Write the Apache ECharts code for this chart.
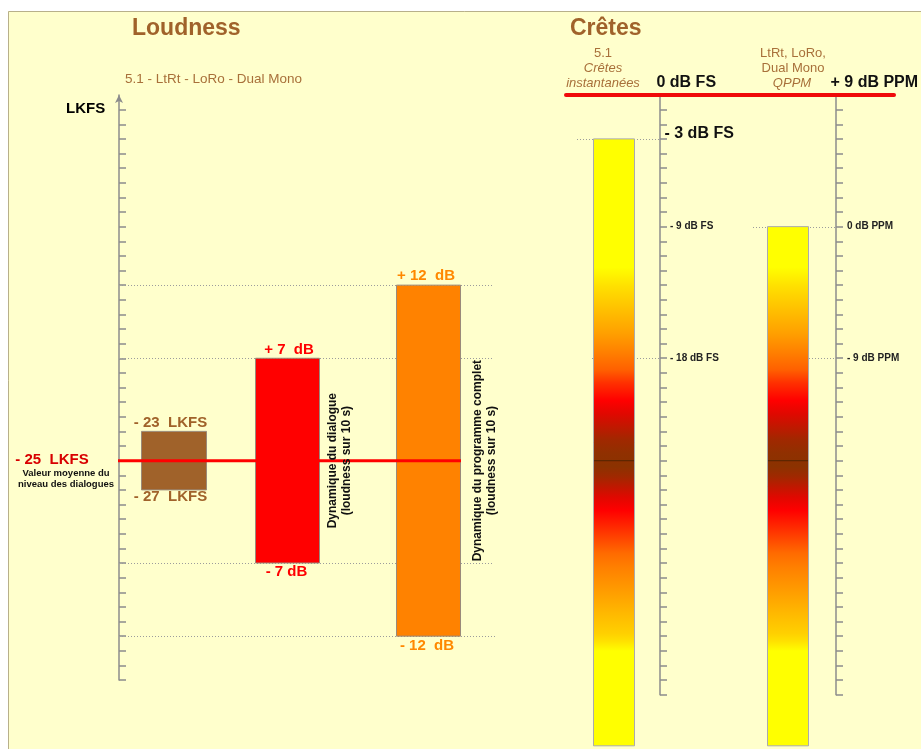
<!DOCTYPE html>
<html><head><meta charset="utf-8">
<script src="https://cdn.jsdelivr.net/npm/echarts@6/dist/echarts.min.js"></script>
<style>html,body{margin:0;padding:0;background:#fff}#c{width:921px;height:749px}</style>
</head><body><div id="c"></div>
<script>
// ---------------- data ----------------
const lkfsTicks = [-1,-2,-3,-4,-5,-6,-7,-8,-9,-10,-11,-12,-13,-14,-15,-16,-17,-18,-19,-20,
  -21,-22,-23,-24,-25,-26,-27,-28,-29,-30,-31,-32,-33,-34,-35,-36,-37,-38,-39,-40];
const lkfsRange = [-40, 0];
const dialogueLevel = -25;                 // LKFS
const dialogueLevelLabel = '- 25  LKFS';
const dialogueLevelNote = ['Valeur moyenne du', 'niveau des dialogues'];
const dialogueTolerance = [-23, -27];      // LKFS
const toleranceLabels = ['- 23  LKFS', '- 27  LKFS'];
const dialogueDynamics = [-18, -32];       // LKFS (+7 / -7 dB)
const dialogueDynLabels = ['+ 7  dB', '- 7 dB'];
const programmeDynamics = [-13, -37];      // LKFS (+12 / -12 dB)
const programmeDynLabels = ['+ 12  dB', '- 12  dB'];
const lkfsGuides = [-13, -18, -32, -37];
const dynamicsCaptions = [
  ['Dynamique du dialogue', '(loudness sur 10 s)'],
  ['Dynamique du programme complet', '(loudness sur 10 s)']
];

const dbfsRange = [-41, 0];
const ppmRange = [-32, 9];
const ppmAtFullScale = 9;                  // 0 dB FS = +9 dB PPM
const peak51 = [-3, -44.5];                // dB FS
const peakQppm = [0, -35.5];               // dB PPM
const peakReference = -25;                 // dB FS, dark mark on meters
const dbfsBigMarks = [0, -3];
const ppmBigMarks = [9];
const dbfsLabelValues = [-9, -18];
const ppmLabelValues = [0, -9];
const dbfsGuides = [-3, -18];
const ppmGuides = [0, -9];
const gradStopValues = [-11.8,-13.1,-14.7,-16.3,-17.6,-18.8,-19.7,-20.9,-21.8,-22.7,-23.6,-24.5,
  -25.4,-26.1,-26.8,-27.5,-28.4,-30.0,-31.3,-32.3,-34.1,-35.4,-36.8,-37.3,-38.0];
const gradStopColors = ['#FFFF00','#FFE000','#FFC000','#FFA000','#FF8000','#FF6000','#FF3000','#FF0000',
  '#E00800','#C01800','#A02800','#903000','#8B3200','#A02800','#C01800','#E00800','#FF0000','#FF3A00',
  '#FF6A00','#FF8000','#FFA000','#FFB800','#FFD000','#FFE000','#FFFF00'];

// ---------------- layout / styles ----------------
const FONT = '"Liberation Sans", Arial, sans-serif';
const BROWN = '#A0622A', RED = '#FF0000', DARKRED = '#D80000', ORANGE = '#FF8800';
const PX_PER_DB = 14.625;
const GRIDS = [
  {left:119, top:95, width:380, height:(lkfsRange[1]-lkfsRange[0])*PX_PER_DB},
  {left:566, top:95, width:94,  height:(dbfsRange[1]-dbfsRange[0])*PX_PER_DB},
  {left:660, top:95, width:176, height:(ppmRange[1]-ppmRange[0])*PX_PER_DB}
];
const AXIS_COLOR = '#8C8C8C';
const leftBarCols = [[22,87],[136,200],[277,341]];
const leftBarColors = [BROWN, '#FF0000', '#FF8200'];
const lkfsGuideEnd = [374,374,374,378];
const levelLineX = [-1, 342];

function fmtDb(v, unit){ return (v < 0 ? '- ' + (-v) : v > 0 ? '+ ' + v : '0') + ' ' + unit; }
function crisp(y){ return Math.round(y) + 0.5; }
function lineEl(a, b, style){ return {type:'line', shape:{x1:a[0], y1:a[1], x2:b[0], y2:b[1]}, style:style}; }
function textEl(x, y, text, s, rot){
  return {type:'text', x:x, y:y, rotation: rot ? Math.PI/2 : 0,
    style:{text:text, fill:s.color, fontFamily:FONT, fontSize:s.size||15, fontWeight:s.weight||'bold',
      fontStyle:s.style||'normal', align:s.align||'center', verticalAlign:'middle', lineHeight:s.lh}};
}
function base(grid){ return {type:'custom', xAxisIndex:grid, yAxisIndex:grid, clip:false, silent:true}; }

const leftLabelSpecs = [
  {value:dialogueTolerance[0], text:toleranceLabels[0], x:51.5, dy:-9, color:BROWN},
  {value:dialogueTolerance[1], text:toleranceLabels[1], x:51.5, dy:7, color:BROWN},
  {value:dialogueDynamics[0], text:dialogueDynLabels[0], x:170, dy:-8, color:RED},
  {value:dialogueDynamics[1], text:dialogueDynLabels[1], x:167.5, dy:9, color:RED},
  {value:programmeDynamics[0], text:programmeDynLabels[0], x:307, dy:-9, color:ORANGE},
  {value:programmeDynamics[1], text:programmeDynLabels[1], x:308, dy:9.5, color:ORANGE},
  {value:dialogueLevel, text:dialogueLevelLabel, x:-67, dy:-1, color:DARKRED},
  {value:dialogueLevel, text:dialogueLevelNote.join('\n'), x:-53, dy:18.5, color:'#111', size:9.5, lh:11},
  {value:dialogueLevel, text:dynamicsCaptions[0].join('\n'), x:221, dy:0, color:'#111', size:12, lh:14, rot:true},
  {value:dialogueLevel, text:dynamicsCaptions[1].join('\n'), x:365.5, dy:0, color:'#111', size:12, lh:14, rot:true}
];

function guideSeries(grid, values, startX, endX){
  return Object.assign(base(grid), {
    data: values.map(v => [v]),
    renderItem: (p, api) => {
      const v = api.value(0);
      const a = api.coord([startX[p.dataIndex], v]), b = api.coord([endX[p.dataIndex], v]);
      return lineEl([a[0], crisp(a[1])], [b[0], crisp(b[1])], {stroke:'#9C9C9C', lineWidth:1, lineDash:[1,2]});
    }
  });
}
function meterSeries(grid, range, cols, off){
  return Object.assign(base(grid), {
    data: [range],
    renderItem: (p, api) => {
      const a = api.coord([cols[0], api.value(0)]), b = api.coord([cols[1], api.value(1)]);
      const h = b[1] - a[1];
      const stops = gradStopValues.map((s, k) => {
        const y = api.coord([0, s + off])[1];
        return {offset: Math.max(0, Math.min(1, (y - a[1]) / h)), color: gradStopColors[k]};
      });
      const my = api.coord([0, peakReference + off])[1];
      return {type:'group', children:[
        {type:'rect', shape:{x:a[0] + 0.5, y:a[1], width:b[0] - a[0], height:h},
          style:{fill:new echarts.graphic.LinearGradient(0, 0, 0, 1, stops), stroke:'#ABABAB', lineWidth:1}},
        lineEl([a[0] + 1, my], [b[0], my], {stroke:'#5E2600', lineWidth:1.4})
      ]};
    }
  });
}
function bigLabelSeries(grid, values, unit, xs, dys){
  return Object.assign(base(grid), {
    data: values.map(v => [v]),
    renderItem: (p, api) => {
      const v = api.value(0), i = p.dataIndex;
      const c = api.coord([xs[i], v]);
      return textEl(c[0], c[1] + dys[i], fmtDb(v, unit), {color:'#111', size:16, align:'left'});
    }
  });
}
function valueAxis(grid, range, pos, extra){
  return Object.assign({
    gridIndex:grid, type:'value', min:range[0], max:range[1], interval:1, position:pos,
    axisLine:{show:true, onZero:false, lineStyle:{color:AXIS_COLOR, width:1.5}},
    axisTick:{show:true, length:7, lineStyle:{color:AXIS_COLOR, width:1.5}},
    splitLine:{show:false}
  }, extra);
}

const option = {
  animation:false,
  backgroundColor:'#FFFFCC',
  grid: GRIDS.map(g => Object.assign({outerBoundsMode:'none', containLabel:false}, g)),
  xAxis: GRIDS.map((g, i) => ({gridIndex:i, type:'value', min:0, max:g.width, show:false})),
  yAxis: [
    {gridIndex:0, type:'value', min:lkfsRange[0], max:lkfsRange[1], position:'left',
      axisLine:{show:true, onZero:false, symbol:['none','arrow'], symbolSize:[6,8],
        lineStyle:{color:AXIS_COLOR, width:1.5}},
      axisTick:{show:true, inside:true, length:7, customValues:lkfsTicks, lineStyle:{color:AXIS_COLOR, width:1.5}},
      axisLabel:{show:false}, splitLine:{show:false}},
    valueAxis(1, dbfsRange, 'right', {axisLabel:{show:true, customValues:dbfsLabelValues, margin:10,
      formatter: v => fmtDb(v, 'dB FS'), fontFamily:FONT, fontSize:10, fontWeight:'bold', color:'#222'}}),
    valueAxis(2, ppmRange, 'right', {axisLabel:{show:true, customValues:ppmLabelValues, margin:11,
      formatter: v => fmtDb(v, 'dB PPM'), fontFamily:FONT, fontSize:10, fontWeight:'bold', color:'#222'}})
  ],
  graphic: [
    {type:'rect', shape:{x:0, y:0, width:921, height:11}, style:{fill:'#FFFFFF'}},
    {type:'rect', shape:{x:0, y:0, width:8, height:749}, style:{fill:'#FFFFFF'}},
    {type:'polyline', shape:{points:[[8.5,749],[8.5,11.5],[921,11.5]]}, style:{stroke:'#B8B08A', lineWidth:1, fill:null}},
    {type:'text', x:132, y:29, style:{text:'Loudness', fill:BROWN, fontFamily:FONT, fontSize:23, fontWeight:'bold', verticalAlign:'middle'}},
    {type:'text', x:570, y:29, style:{text:'Crêtes', fill:BROWN, fontFamily:FONT, fontSize:23, fontWeight:'bold', verticalAlign:'middle'}},
    {type:'text', x:125, y:79, style:{text:'5.1 - LtRt - LoRo - Dual Mono', fill:'#A8703A', fontFamily:FONT, fontSize:13.5, verticalAlign:'middle'}},
    {type:'text', x:66, y:109, style:{text:'LKFS', fill:'#000', fontFamily:FONT, fontSize:15, fontWeight:'bold', verticalAlign:'middle'}},
    {type:'text', x:603, y:53, style:{text:'5.1', fill:'#A8703A', fontFamily:FONT, fontSize:13, align:'center', verticalAlign:'middle'}},
    {type:'text', x:603, y:68, style:{text:'Crêtes', fill:'#A8703A', fontFamily:FONT, fontSize:13, fontStyle:'italic', align:'center', verticalAlign:'middle'}},
    {type:'text', x:603, y:83, style:{text:'instantanées', fill:'#A8703A', fontFamily:FONT, fontSize:13, fontStyle:'italic', align:'center', verticalAlign:'middle'}},
    {type:'text', x:793, y:53, style:{text:'LtRt, LoRo,', fill:'#A8703A', fontFamily:FONT, fontSize:13, align:'center', verticalAlign:'middle'}},
    {type:'text', x:793, y:68, style:{text:'Dual Mono', fill:'#A8703A', fontFamily:FONT, fontSize:13, align:'center', verticalAlign:'middle'}},
    {type:'text', x:792, y:83, style:{text:'QPPM', fill:'#A8703A', fontFamily:FONT, fontSize:13, fontStyle:'italic', align:'center', verticalAlign:'middle'}}
  ],
  series: [
    guideSeries(0, lkfsGuides, [0,0,0,0], lkfsGuideEnd),
    Object.assign(base(0), {
      data: [dialogueTolerance, dialogueDynamics, programmeDynamics],
      renderItem: (p, api) => {
        const cols = leftBarCols[p.dataIndex];
        const a = api.coord([cols[0], api.value(0)]), b = api.coord([cols[1], api.value(1)]);
        return {type:'rect', shape:{x:a[0] + 0.5, y:a[1], width:b[0] - a[0], height:b[1] - a[1]},
          style:{fill:leftBarColors[p.dataIndex], stroke:'#9A8A7A', lineWidth:1}};
      }
    }),
    Object.assign(base(0), {
      data: [[dialogueLevel]],
      renderItem: (p, api) => {
        const v = api.value(0);
        return lineEl(api.coord([levelLineX[0], v]), api.coord([levelLineX[1], v]), {stroke:'#FF0000', lineWidth:3});
      }
    }),
    Object.assign(base(0), {
      data: leftLabelSpecs.map(s => [s.value]),
      renderItem: (p, api) => {
        const s = leftLabelSpecs[p.dataIndex];
        const c = api.coord([s.x, api.value(0)]);
        return textEl(c[0], c[1] + s.dy, s.text, s, s.rot);
      }
    }),
    guideSeries(1, dbfsGuides, [11, 26], [94, 94]),
    guideSeries(2, ppmGuides, [93, 107], [176, 176]),
    meterSeries(1, peak51, [27, 68], 0),
    meterSeries(2, peakQppm, [107, 148], ppmAtFullScale),
    Object.assign(base(1), {
      data: [[dbfsRange[1]]],
      renderItem: (p, api) => {
        const v = api.value(0);
        return lineEl(api.coord([0, v]), api.coord([328, v]), {stroke:'#F00A0A', lineWidth:4, lineCap:'round'});
      }
    }),
    bigLabelSeries(1, dbfsBigMarks, 'dB FS', [90.5, 98.5], [-12, -5]),
    bigLabelSeries(2, ppmBigMarks, 'dB PPM', [170.5], [-12])
  ]
};
echarts.init(document.getElementById('c')).setOption(option);
</script></body></html>
